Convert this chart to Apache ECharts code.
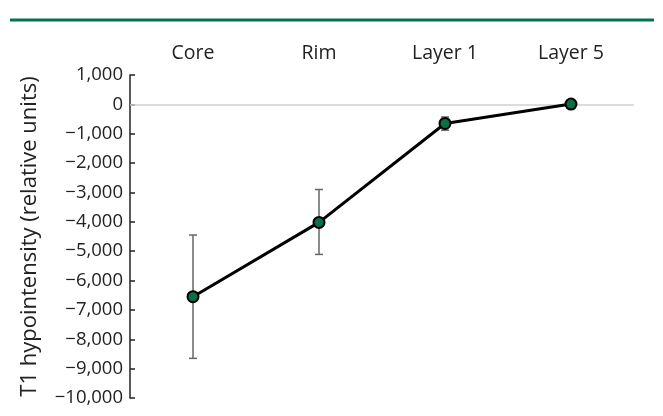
<!DOCTYPE html>
<html>
<head>
<meta charset="utf-8">
<script src="https://cdn.jsdelivr.net/npm/echarts@6/dist/echarts.min.js"></script>
<style>html,body{margin:0;padding:0;background:#fff;}#c{width:663px;height:416px;}</style>
</head>
<body>
<div id="c"></div>
<script>
var categories = ['Core', 'Rim', 'Layer 1', 'Layer 5'];
var means = [-6550, -4020, -650, 10];
var errLow = [-8650, -5110, -880, 10];
var errHigh = [-4450, -2900, -430, 10];
var yTicks = { min: -10000, max: 1000, interval: 1000 };

function fmt(v) {
  var s = Math.abs(v).toString().replace(/\B(?=(\d{3})+(?!\d))/g, ',');
  return (v < 0 ? '\u2212' : '') + s;
}

var errData = categories.map(function (c, i) { return [i, errLow[i], errHigh[i]]; });

var chart = echarts.init(document.getElementById('c'));
chart.setOption({
  animation: false,
  textStyle: { fontFamily: 'Open Sans' },
  graphic: [{
    type: 'line', shape: { x1: 10, y1: 20, x2: 654, y2: 20 },
    style: { stroke: '#00744b', lineWidth: 3 }
  }],
  grid: { left: 130, right: 29, top: 75, bottom: 18 },
  xAxis: {
    type: 'category', data: categories, position: 'top',
    axisLine: { show: false }, axisTick: { show: false },
    axisLabel: { color: '#222', fontSize: 19.5, margin: 12, fontFamily: 'Open Sans' }
  },
  yAxis: {
    type: 'value', min: yTicks.min, max: yTicks.max, interval: yTicks.interval,
    name: 'T1 hypointensity (relative units)', nameLocation: 'middle', nameGap: 89,
    nameTextStyle: { color: '#222', fontSize: 22, fontFamily: 'Open Sans' },
    axisLine: { show: true, lineStyle: { color: '#222', width: 1.5 } },
    axisTick: { show: true, inside: true, length: 5, lineStyle: { color: '#222', width: 1.5 } },
    splitLine: { show: false },
    axisLabel: { color: '#222', fontSize: 18.5, margin: 7, formatter: fmt, fontFamily: 'Open Sans' }
  },
  series: [{
    type: 'custom',
    data: errData,
    z: 2,
    renderItem: function (params, api) {
      var x = api.value(0);
      var lo = api.coord([x, api.value(1)]);
      var hi = api.coord([x, api.value(2)]);
      var w = 4;
      var st = { stroke: '#666', lineWidth: 1.5 };
      return { type: 'group', children: [
        { type: 'line', shape: { x1: lo[0], y1: lo[1], x2: hi[0], y2: hi[1] }, style: st },
        { type: 'line', shape: { x1: lo[0] - w, y1: lo[1], x2: lo[0] + w, y2: lo[1] }, style: st },
        { type: 'line', shape: { x1: hi[0] - w, y1: hi[1], x2: hi[0] + w, y2: hi[1] }, style: st }
      ]};
    }
  }, {
    type: 'line', data: means, z: 3,
    symbol: 'circle', symbolSize: 11,
    lineStyle: { color: '#000', width: 3 },
    itemStyle: { color: '#0a6e46', borderColor: '#000', borderWidth: 2 },
    markLine: {
      silent: true, symbol: 'none', label: { show: false },
      lineStyle: { color: '#d0d0d0', width: 1.5, type: 'solid' },
      data: [{ yAxis: 0 }], z: 1
    }
  }]
});
</script>
</body>
</html>
